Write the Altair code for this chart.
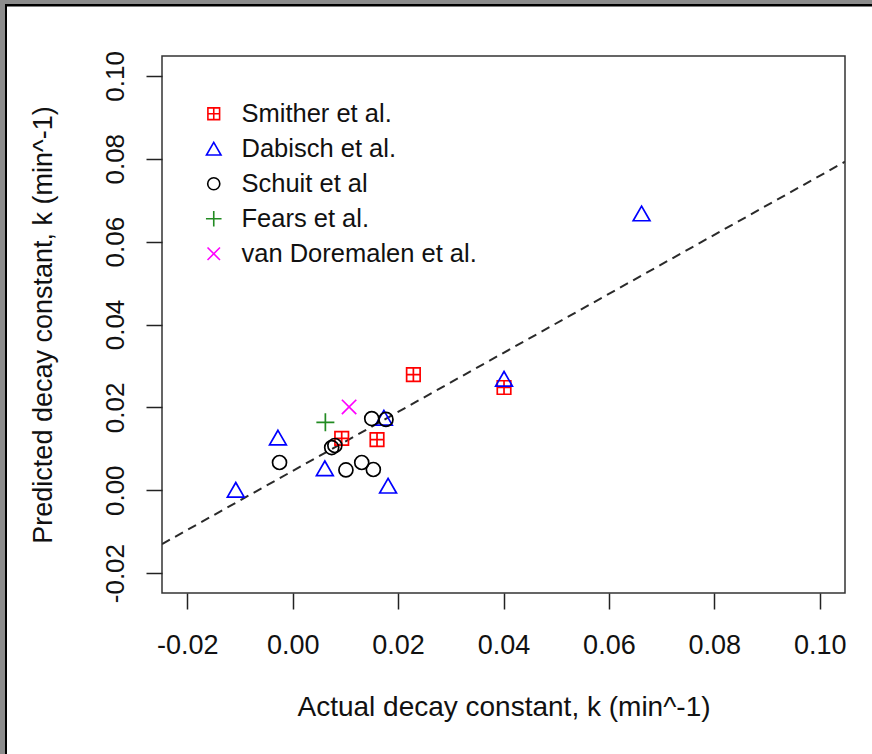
import altair as alt
import pandas as pd

# ---- data ----
studies = ["Smither et al.", "Dabisch et al.", "Schuit et al", "Fears et al.", "van Doremalen et al."]

smither_x = [0.0229, 0.0401, 0.0093, 0.0160]
smither_y = [0.0279, 0.0248, 0.0125, 0.0122]

dabisch_x = [0.0662, 0.0401, 0.0173, -0.0028, -0.0108, 0.0061, 0.0181]
dabisch_y = [0.0668, 0.0269, 0.0175, 0.0127, 0.0001, 0.0053, 0.0011]

schuit_x = [0.0150, 0.0177, 0.0074, 0.0080, -0.0025, 0.0101, 0.0131, 0.0153]
schuit_y = [0.0173, 0.0171, 0.0103, 0.0108, 0.0067, 0.0049, 0.0067, 0.0050]

fears_x = [0.0062]
fears_y = [0.0164]

vandoremalen_x = [0.0107]
vandoremalen_y = [0.0201]

line_x = [-0.0248, 0.1048]
line_y = [-0.0130, 0.0793]

ticks = [-0.02, 0.00, 0.02, 0.04, 0.06, 0.08, 0.10]
axis_domain = [-0.0248, 0.1048]

colors = ["#FF0000", "#0000FF", "#000000", "#228B22", "#FF00FF"]
# R-like pch symbols as unit paths (boxed plus, open triangle, open circle, plus, cross)
shapes = [
    "M-0.675,-0.675H0.675V0.675H-0.675Z M0,-0.675V0.675 M-0.675,0H0.675",
    "M0,-0.73L0.84,0.73L-0.84,0.73Z",
    "M-0.7,0A0.7,0.7 0 1,1 0.7,0A0.7,0.7 0 1,1 -0.7,0Z",
    "M0,-0.9V0.9 M-0.9,0H0.9",
    "M-0.72,-0.72L0.72,0.72 M-0.72,0.72L0.72,-0.72",
]

FONT = "Liberation Sans"

rows = []
for name, xs, ys in [
    (studies[0], smither_x, smither_y),
    (studies[1], dabisch_x, dabisch_y),
    (studies[2], schuit_x, schuit_y),
    (studies[3], fears_x, fears_y),
    (studies[4], vandoremalen_x, vandoremalen_y),
]:
    for a, b in zip(xs, ys):
        rows.append({"study": name, "actual": a, "predicted": b})
df = pd.DataFrame(rows)
line_df = pd.DataFrame({"actual": line_x, "predicted": line_y})

minus_fix = "replace(format(datum.value, '.2f'), '\u2212', '-')"

xscale = alt.Scale(domain=axis_domain, nice=False, zero=False)
yscale = alt.Scale(domain=axis_domain, nice=False, zero=False)

x_axis = alt.Axis(
    values=ticks, labelExpr=minus_fix, grid=False, domain=False,
    tickSize=16, tickWidth=1.5, tickColor="#222",
    labelFont=FONT, labelFontSize=27, labelColor="#111", labelPadding=23,
    title="Actual decay constant, k (min^-1)",
    titleFont=FONT, titleFontSize=28, titleFontWeight="normal", titleColor="#111",
    titleY=114, titleBaseline="middle",
)
y_axis = alt.Axis(
    values=ticks, labelExpr=minus_fix, grid=False, domain=False,
    tickSize=16, tickWidth=1.5, tickColor="#222",
    labelFont=FONT, labelFontSize=26, labelColor="#111", labelPadding=18,
    labelAngle=270, labelAlign="center", labelBaseline="bottom",
    title="Predicted decay constant, k (min^-1)",
    titleFont=FONT, titleFontSize=27, titleFontWeight="normal", titleColor="#111",
    titleX=-119, titleY=268.5, titleAngle=270, titleAlign="center", titleBaseline="middle",
)

legend = alt.Legend(
    orient="none", legendX=39, legendY=45, title=None, padding=0,
    labelFont=FONT, labelFontSize=25.5, labelColor="#111", labelOffset=15,
    labelLimit=500, rowPadding=8, symbolSize=300, symbolStrokeWidth=1.6,
)

line = alt.Chart(line_df).mark_line(
    color="#2a2a2a", strokeDash=[9, 6], strokeWidth=2, clip=True
).encode(
    x=alt.X("actual:Q", scale=xscale, axis=x_axis),
    y=alt.Y("predicted:Q", scale=yscale, axis=y_axis),
)

points = alt.Chart(df).mark_point(filled=False, strokeWidth=1.7, opacity=1, size=400).encode(
    x=alt.X("actual:Q", scale=xscale),
    y=alt.Y("predicted:Q", scale=yscale),
    color=alt.Color("study:N", scale=alt.Scale(domain=studies, range=colors), legend=legend),
    shape=alt.Shape("study:N", scale=alt.Scale(domain=studies, range=shapes), legend=legend),
)

frame_df = pd.DataFrame({"k": [0]})
frame_left_gray = alt.Chart(frame_df).mark_rect(color="#8c8c8c").encode(
    x=alt.value(-162), x2=alt.value(-157), y=alt.value(-56), y2=alt.value(698)
)
frame_left_black = alt.Chart(frame_df).mark_rect(color="#000000").encode(
    x=alt.value(-157), x2=alt.value(-155), y=alt.value(-51), y2=alt.value(698)
)
frame_top_gray = alt.Chart(frame_df).mark_rect(color="#8c8c8c").encode(
    x=alt.value(-162), x2=alt.value(710), y=alt.value(-56), y2=alt.value(-52)
)
frame_top_black = alt.Chart(frame_df).mark_rect(color="#000000").encode(
    x=alt.value(-157), x2=alt.value(710), y=alt.value(-52), y2=alt.value(-49.5)
)

chart = alt.layer(
    line, points, frame_left_gray, frame_left_black, frame_top_gray, frame_top_black
).properties(
    width=683, height=537,
    autosize=alt.AutoSizeParams(type="none"),
    padding={"left": 162, "top": 56, "right": 27, "bottom": 161},
    background="white",
).configure_view(
    stroke="#333", strokeWidth=1.5
)

chart.save("out.html", embed_options={"renderer": "svg", "actions": False})
